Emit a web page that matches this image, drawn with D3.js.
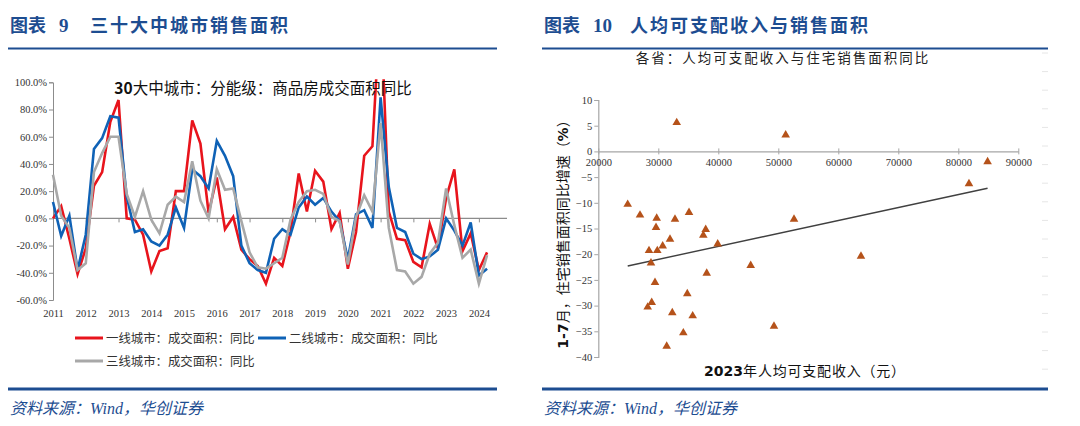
<!DOCTYPE html>
<html><head><meta charset="utf-8">
<script src="https://cdn.jsdelivr.net/npm/d3@7"></script>
<style>body{margin:0;background:#fff}svg{display:block}</style></head>
<body><svg id="c" width="1080" height="426"></svg>
<script>
// ---------- data: left chart (quarterly YoY %, 2011Q1 .. 2024Q2) ----------
const years = [2011,2012,2013,2014,2015,2016,2017,2018,2019,2020,2021,2022,2023,2024];
const tier1 = [0,9,-15,-41,-22,24,34,71,87,0,-1,-12,-39,-24,-22,20,20,72,55,4,30,-8,1,-23,-30,-35,-48,-29,-35,-10,33,5,35,27,-8,4,-37,-10,46,53,160,5,-15,-16,-32,-36,-4,-22,15,36,-24,-11,-38,-25];
const tier2 = [12,-13,2,-38,-12,51,59,75,74,16,-10,-8,-17,-20,-12,8,-7,36,31,22,57,46,31,-20,-33,-38,-40,-15,-8,-12,8,16,10,15,5,-2,-30,3,6,-7,89,23,-7,-10,-26,-30,-28,-23,0,-9,-20,-3,-42,-37];
const tier3 = [32,2,-7,-38,-33,34,48,60,60,18,1,20,-1,-11,10,16,12,42,13,0,36,21,22,-2,-25,-36,-37,-33,-29,-1,12,20,21,18,1,-2,-34,1,17,5,70,-7,-38,-39,-48,-43,-26,-18,22,-5,-29,-23,-48,-27];
const seriesNames = ["一线城市：成交面积：同比","二线城市：成交面积：同比","三线城市：成交面积：同比"];
const seriesColors = ["#E8141C","#0F62B6","#A8A8A8"];
const yTicksL = [100,80,60,40,20,0,-20,-40,-60];

// ---------- data: right chart (31 provinces) ----------
const income = [24900,26950,29730,29620,32780,35120,33070,51230,31950,30730,29830,28450,28780,29450,28900,28230,32330,31400,34170,34830,35730,37500,37900,38070,39900,45400,49280,52620,63780,81780,84880];
const salesGrowth = [-10.3,-12.4,-13.0,-14.8,-13.2,-11.9,5.6,3.2,-17.1,-18.4,-19.3,-19.3,-21.7,-25.5,-29.4,-30.3,-31.4,-37.9,-35.3,-27.7,-32.0,-16.3,-15.2,-23.7,-18.0,-22.2,-34.0,-13.2,-20.4,-6.3,-2.0];
const yTicksR = [10,5,0,-5,-10,-15,-20,-25,-30,-35,-40];
const xTicksR = [20000,30000,40000,50000,60000,70000,80000,90000];

const svg = d3.select("#c");
const CJK = "'Noto Sans CJK SC','Noto Sans',sans-serif";
const SERIF = "'Liberation Serif','DejaVu Serif',serif";
const NAVY = "#1D4D91";

// ---------- frame: titles, rules, footers ----------
function frame(x0, x1, num, title) {
  const g = svg.append("g");
  g.append("text").attr("x", x0 + 2).attr("y", 32).attr("fill", NAVY)
    .attr("font-family", CJK).attr("font-weight", 700).attr("font-size", 18)
    .text("图表");
  g.append("text").attr("x", x0 + 51).attr("y", 32).attr("fill", NAVY)
    .attr("font-family", SERIF).attr("font-weight", 700).attr("font-size", 19)
    .text(num);
  g.append("text").attr("x", x0 + (num.length > 1 ? 88 : 82)).attr("y", 32).attr("fill", NAVY)
    .attr("font-family", CJK).attr("font-weight", 700).attr("font-size", 18)
    .attr("letter-spacing", 2).text(title);
  g.append("line").attr("x1", x0).attr("x2", x1).attr("y1", 48.5).attr("y2", 48.5)
    .attr("stroke", NAVY).attr("stroke-width", 2);
  g.append("line").attr("x1", x0).attr("x2", x1).attr("y1", 389).attr("y2", 389)
    .attr("stroke", NAVY).attr("stroke-width", 3);
  g.append("text").attr("x", x0 + 2).attr("y", 414).attr("fill", NAVY)
    .attr("font-family", SERIF + "," + CJK).attr("font-style", "italic").attr("font-size", 16)
    .text("资料来源：Wind，华创证券");
}
frame(8, 497, "9", "三十大中城市销售面积");
frame(542, 1048, "10", "人均可支配收入与销售面积");

// ---------- left chart ----------
const n = tier1.length;
const xL = d3.scaleLinear().domain([0, n - 1]).range([53, 53 + (n - 1) * 8.19]);
const yL = d3.scaleLinear().domain([-60, 100]).range([300, 82.3]);
const gl = svg.append("g");

// y axis
const yAxisL = d3.axisLeft(yL).tickValues(yTicksL).tickSize(4)
  .tickFormat(d => d.toFixed(1) + "%");
const ya = gl.append("g").attr("transform", `translate(${xL(0)},0)`).call(yAxisL);
ya.select(".domain").attr("stroke", "#8c8c8c");
ya.selectAll(".tick line").attr("stroke", "#8c8c8c");
ya.selectAll("text").attr("font-family", SERIF).attr("font-size", 10.5).attr("fill", "#333").attr("x", -6);

// zero line with year ticks
const yearIdx = years.map((y, i) => i * 4);
const za = gl.append("g").attr("transform", `translate(0,${yL(0)})`)
  .call(d3.axisBottom(xL).tickValues(yearIdx).tickSize(4).tickFormat(""));
za.select(".domain").remove();
za.selectAll(".tick line").attr("stroke", "#8c8c8c");
gl.append("line").attr("x1", xL(0)).attr("x2", 507).attr("y1", yL(0)).attr("y2", yL(0))
  .attr("stroke", "#8c8c8c").attr("stroke-width", 1.2);

// year labels
const xa = gl.append("g").attr("transform", `translate(0,307)`)
  .call(d3.axisBottom(xL).tickValues(yearIdx).tickSize(0).tickFormat((d, i) => years[i]));
xa.select(".domain").remove();
xa.selectAll("text").attr("font-family", SERIF).attr("font-size", 10.5).attr("fill", "#333");

// clip
svg.append("defs").append("clipPath").attr("id", "clipL").append("rect")
  .attr("x", 40).attr("y", yL(100) - 3).attr("width", 480).attr("height", yL(-60) - yL(100) + 6);

const line = d3.line().x((d, i) => xL(i)).y(d => yL(d));
const series = [tier1, tier2, tier3];
const lg = gl.append("g").attr("clip-path", "url(#clipL)");
series.forEach((s, k) => {
  lg.append("path").datum(s).attr("d", line).attr("fill", "none")
    .attr("stroke", seriesColors[k]).attr("stroke-width", 2.6).attr("stroke-linejoin", "miter");
});

// chart title
gl.append("text").attr("x", 263).attr("y", 94).attr("text-anchor", "middle")
  .attr("font-family", CJK).attr("font-size", 15.5).attr("fill", "#111")
  .call(t => {
    t.append("tspan").attr("font-weight", 700).text("30");
    t.append("tspan").text("大中城市：分能级：商品房成交面积同比");
  });

// legend
const legPos = [[75, 338], [258, 338], [75, 361]];
seriesNames.forEach((name, k) => {
  const [lx, ly] = legPos[k];
  gl.append("line").attr("x1", lx).attr("x2", lx + 28).attr("y1", ly).attr("y2", ly)
    .attr("stroke", seriesColors[k]).attr("stroke-width", 3);
  gl.append("text").attr("x", lx + 31).attr("y", ly + 4.5)
    .attr("font-family", CJK).attr("font-size", 12.4).attr("fill", "#333")
    .text(name);
});

// ---------- right chart ----------
const xR = d3.scaleLinear().domain([20000, 90000]).range([598.3, 1018.3]);
const yR = d3.scaleLinear().domain([-40, 10]).range([357, 100]);
const gr = svg.append("g");

gr.append("text").attr("x", 783).attr("y", 63).attr("text-anchor", "middle")
  .attr("font-family", CJK).attr("font-size", 13.5).attr("letter-spacing", 2).attr("fill", "#222")
  .text("各省：人均可支配收入与住宅销售面积同比");

const yaR = gr.append("g").attr("transform", `translate(${xR(20000)},0)`)
  .call(d3.axisLeft(yR).tickValues(yTicksR).tickSize(4));
yaR.select(".domain").attr("stroke", "#a6a6a6").attr("stroke-width", 1.2);
yaR.selectAll(".tick line").attr("stroke", "#a6a6a6");
yaR.selectAll("text").attr("font-family", SERIF).attr("font-size", 10.5).attr("fill", "#333").attr("x", -6);

const xaR = gr.append("g").attr("transform", `translate(0,${yR(0)})`)
  .call(d3.axisBottom(xR).tickValues(xTicksR).tickSize(0).tickPadding(7).tickFormat(d3.format("d")));
xaR.select(".domain").attr("stroke", "#a6a6a6").attr("stroke-width", 1.2);
xaR.selectAll(".tick").append("line").attr("y1", -3).attr("y2", 3).attr("stroke", "#a6a6a6");
xaR.selectAll("text").attr("font-family", SERIF).attr("font-size", 10.5).attr("fill", "#333");

// linear trend (least squares over the points)
const mx = d3.mean(income), my = d3.mean(salesGrowth);
const sxy = d3.sum(income, (x, i) => (x - mx) * (salesGrowth[i] - my));
const sxx = d3.sum(income, x => (x - mx) * (x - mx));
const slope = sxy / sxx, icpt = my - slope * mx;
const [xmin, xmax] = d3.extent(income);
gr.append("line").attr("x1", xR(xmin)).attr("y1", yR(icpt + slope * xmin))
  .attr("x2", xR(xmax)).attr("y2", yR(icpt + slope * xmax))
  .attr("stroke", "#404040").attr("stroke-width", 1.4);

const tri = d3.symbol().type(d3.symbolTriangle).size(32);
gr.selectAll("path.pt").data(income).join("path").attr("class", "pt")
  .attr("d", tri).attr("fill", "#B5521A")
  .attr("transform", (d, i) => `translate(${xR(d)},${yR(salesGrowth[i])})`);

// axis titles
gr.append("text").attr("transform", `translate(568,231) rotate(-90)`).attr("text-anchor", "middle")
  .attr("font-family", CJK).attr("font-size", 14).attr("fill", "#111")
  .call(t => {
    t.append("tspan").attr("font-weight", 700).attr("font-family", "'DejaVu Sans',sans-serif").text("1-7");
    t.append("tspan").text("月，住宅销售面积同比增速（");
    t.append("tspan").attr("font-weight", 700).attr("font-family", "'DejaVu Sans',sans-serif").text("%");
    t.append("tspan").text("）");
  });
gr.append("text").attr("x", 805).attr("y", 376).attr("text-anchor", "middle")
  .attr("font-family", CJK).attr("font-size", 14).attr("fill", "#111")
  .call(t => {
    t.append("tspan").attr("font-weight", 700).attr("font-family", "'DejaVu Sans',sans-serif").text("2023");
    t.append("tspan").attr("letter-spacing", 0.8).text("年人均可支配收入（元）");
  });

// faint edge dashes
gr.selectAll("line.dash").data(d3.range(18)).join("line").attr("class", "dash")
  .attr("x1", 1042).attr("x2", 1048)
  .attr("y1", d => 53 + d * 18.6).attr("y2", d => 53 + d * 18.6)
  .attr("stroke", "#e6e6e6").attr("stroke-width", 1);
</script>
</body></html>
